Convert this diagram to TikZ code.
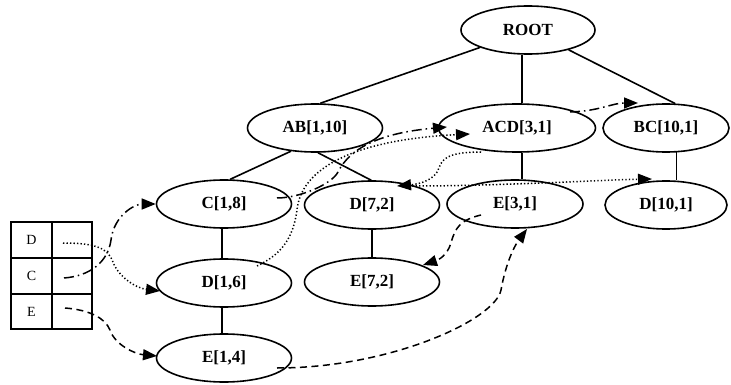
\documentclass[tikz,border=0pt]{standalone}
\usepackage{fontspec}
\setmainfont{Liberation Serif}
\usetikzlibrary{shapes.geometric,arrows.meta}
\begin{document}
\begin{tikzpicture}[x=1pt,y=-1pt,
  fpnode/.style={ellipse,draw,line width=1.6pt,minimum height=48pt,inner sep=0pt,
    font=\fontsize{17}{20}\selectfont\bfseries},
  treeedge/.style={line width=1.6pt},
  lcell/.style={draw,line width=1.4pt,minimum width=41pt,inner sep=0pt,
    font=\fontsize{14}{16}\selectfont},
  rcell/.style={draw,line width=1.4pt,minimum width=40pt,inner sep=0pt},
  linkbase/.style={line width=1.5pt,-{Triangle[length=14pt,width=11pt]}},
  linkdot/.style={linkbase,dash pattern=on 1.3pt off 2.2pt},
  linkdash/.style={linkbase,dash pattern=on 7pt off 4.5pt},
  linkdashdot/.style={linkbase,dash pattern=on 10pt off 4pt on 1.5pt off 4pt}]
\useasboundingbox (0,0) rectangle (731,385);

% FP-tree nodes
\node[fpnode,minimum width=134pt] (ROOT) at (528,30) {ROOT};
\node[fpnode,minimum width=135pt] (AB) at (315,128) {AB[1,10]};
\node[fpnode,minimum width=157pt] (ACD) at (517,128) {ACD[3,1]};
\node[fpnode,minimum width=126pt] (BC) at (666,128) {BC[10,1]};
\node[fpnode,minimum width=135pt] (C18) at (224,204) {C[1,8]};
\node[fpnode,minimum width=135pt] (D72) at (372,205) {D[7,2]};
\node[fpnode,minimum width=136pt] (E31) at (515,204) {E[3,1]};
\node[fpnode,minimum width=122pt] (D101) at (666,205) {D[10,1]};
\node[fpnode,minimum width=135pt] (D16) at (224,283) {D[1,6]};
\node[fpnode,minimum width=135pt] (E72) at (372,282) {E[7,2]};
\node[fpnode,minimum width=135pt] (E14) at (224,358) {E[1,4]};

% header table
\node[lcell,minimum height=36pt] (tD) at (31.5,240) {D};
\node[rcell,minimum height=36pt] (hD) at (72,240) {};
\node[lcell,minimum height=36pt] (tC) at (31.5,276) {C};
\node[rcell,minimum height=36pt] (hC) at (72,276) {};
\node[lcell,minimum height=35pt] (tE) at (31.5,311.5) {E};
\node[rcell,minimum height=35pt] (hE) at (72,311.5) {};

% tree edges
\draw[treeedge] (ROOT.200) -- (AB.78);
\draw[treeedge] (ROOT.256) -- (ROOT.256 |- ACD.north);
\draw[treeedge] (ROOT.334) -- (BC.70);
\draw[treeedge] (AB.224) -- (C18.76);
\draw[treeedge] (AB.277) -- (D72.92);
\draw[treeedge] (ACD.282) -- (ACD.282 |- E31.north);
\draw[treeedge] (BC.293) -- (BC.293 |- D101.north);
\draw[treeedge] (C18.266) -- (C18.266 |- D16.north);
\draw[treeedge] (D16.266) -- (D16.266 |- E14.north);
\draw[treeedge] (D72.south) -- (E72.north);

% node links of item C
\draw[linkdashdot] ([shift={(-8,2)}]hC.center)
  .. controls (90,276) and (108,262) .. (111,240)
  .. controls (114,215) and (135,204) .. (C18.west);
\draw[linkdashdot] ([shift={(53,-6)}]C18.center)
  .. controls (300,198) and (332,184) .. (338,172)
  .. controls (350,148) and (380,133) .. ([shift={(-70,-1)}]ACD.center);
\draw[linkdashdot] ([shift={(53,-16)}]ACD.center)
  .. controls (600,111) and (612,103) .. ([shift={(-28,-25)}]BC.center);

% node links of item D
\draw[linkdot] ([shift={(-9,3)}]hD.center)
  .. controls (95,243) and (108,248) .. (113,262)
  .. controls (118,276) and (135,288) .. ([shift={(-64,8)}]D16.center);
\draw[linkdot] ([shift={(33,-17)}]D16.center)
  .. controls (280,255) and (293,240) .. (297,210)
  .. controls (301,170) and (350,140) .. ([shift={(-47,6)}]ACD.center);
\draw[linkdot] ([shift={(-36,24)}]ACD.center)
  .. controls (450,152) and (442,158) .. (439,168)
  .. controls (435,180) and (420,184) .. ([shift={(25,-19)}]D72.center);
\draw[linkdot] ([shift={(40,-19)}]D72.center)
  .. controls (500,186) and (600,180) .. ([shift={(-14,-26)}]D101.center);

% node links of item E
\draw[linkdash] ([shift={(-7,-3.5)}]hE.center)
  .. controls (90,310) and (105,318) .. (110,330)
  .. controls (115,345) and (135,354) .. ([shift={(-67,-2)}]E14.center);
\draw[linkdash] ([shift={(53,10)}]E14.center)
  .. controls (390,368) and (495,320) .. (501,290)
  .. controls (506,262) and (515,245) .. ([shift={(12,25)}]E31.center);
\draw[linkdash] ([shift={(-34,11)}]E31.center)
  .. controls (460,220) and (455,228) .. (451,243)
  .. controls (447,256) and (438,260) .. ([shift={(51,-17)}]E72.center);
\end{tikzpicture}
\end{document}
